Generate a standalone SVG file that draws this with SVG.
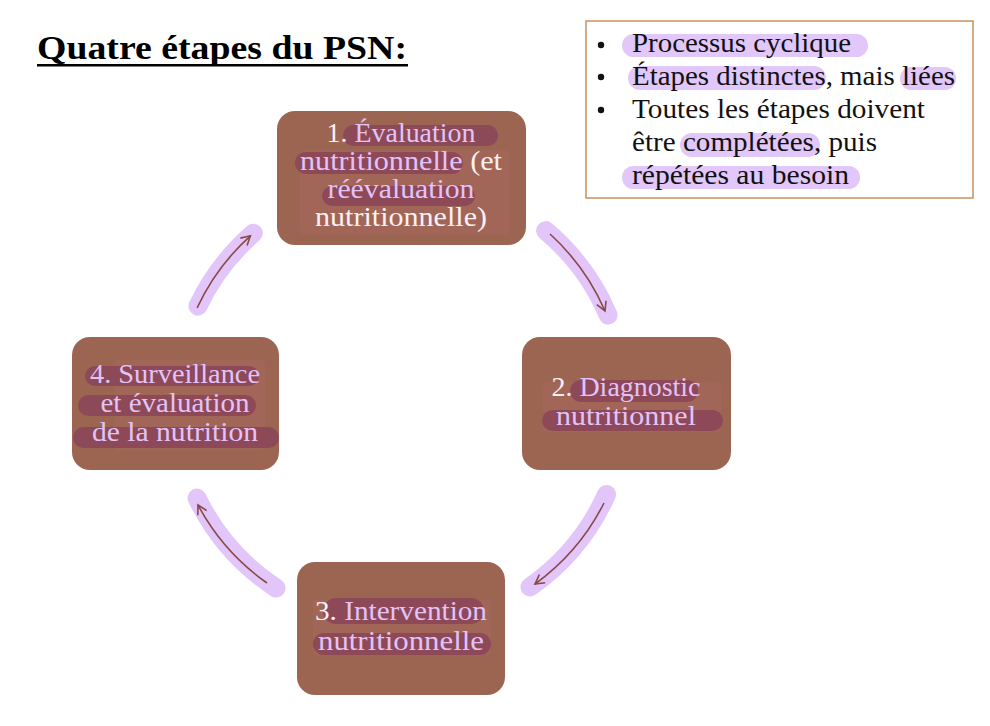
<svg xmlns="http://www.w3.org/2000/svg" width="990" height="726" viewBox="0 0 990 726">
<defs>
<style>
.node{fill:#9c6551;}
.band{fill:#87405a;opacity:0.75;}
.glow{fill:#b06a6a;opacity:0.35;}
.nt{font-family:"Liberation Serif","DejaVu Serif",serif;font-size:27px;text-anchor:middle;}
.w{fill:#fbf1f4;}
.l{fill:#e3c3f7;}
.bt{font-family:"Liberation Serif","DejaVu Serif",serif;font-size:27px;fill:#111;}
.hl{fill:#e2c7fa;}
.lav{fill:none;stroke:#e2c6f9;stroke-width:19;stroke-linecap:round;}
.arr{fill:none;stroke:#8a4848;stroke-width:1.6;marker-end:url(#ah);}
</style>
<marker id="ah" viewBox="0 0 12 12" refX="10" refY="6" markerWidth="12" markerHeight="12" markerUnits="userSpaceOnUse" orient="auto">
<path d="M1,1 L10,6 L1,11" fill="none" stroke="#8a4848" stroke-width="1.6"/>
</marker>
</defs>
<rect width="990" height="726" fill="#ffffff"/>

<g id="title">
<text x="37" y="59" font-family="Liberation Serif, DejaVu Serif, serif" font-weight="bold" font-size="33" fill="#000" textLength="370" lengthAdjust="spacingAndGlyphs">Quatre étapes du PSN:</text>
<rect x="37" y="64" width="371" height="2.5" fill="#000"/>
</g>

<g id="infobox">
<rect x="586" y="21" width="387" height="177" fill="#fff" stroke="#c8915f" stroke-width="1.5"/>
<rect class="hl" x="622" y="34" width="246" height="23" rx="11.5"/>
<rect class="hl" x="628" y="66" width="198" height="24" rx="12"/>
<rect class="hl" x="900" y="67" width="56" height="23" rx="11.5"/>
<rect class="hl" x="680" y="133" width="140" height="24" rx="12"/>
<rect class="hl" x="622" y="166" width="238" height="23" rx="11.5"/>
<circle cx="601" cy="45" r="3.2" fill="#111"/>
<circle cx="601" cy="77" r="3.2" fill="#111"/>
<circle cx="601" cy="110" r="3.2" fill="#111"/>
<text class="bt" x="632" y="52" textLength="219" lengthAdjust="spacingAndGlyphs">Processus cyclique</text>
<text class="bt" x="632" y="85" textLength="323" lengthAdjust="spacingAndGlyphs">Étapes distinctes, mais liées</text>
<text class="bt" x="632" y="118" textLength="293" lengthAdjust="spacingAndGlyphs">Toutes les étapes doivent</text>
<text class="bt" x="632" y="151" textLength="245" lengthAdjust="spacingAndGlyphs">être complétées, puis</text>
<text class="bt" x="632" y="184" textLength="217" lengthAdjust="spacingAndGlyphs">répétées au besoin</text>
</g>

<g id="connectors">
<path class="lav" d="M197.9,306.1 A225,225 0 0 1 253.4,233.2"/>
<path class="arr" d="M197.1,307.9 A225,225 0 0 1 250.4,235.8"/>
<path class="lav" d="M545.6,230.6 A225,225 0 0 1 608.1,315.1"/>
<path class="arr" d="M550,234 A225,225 0 0 1 605,311"/>
<path class="lav" d="M606.5,494.5 A225,225 0 0 1 530,587"/>
<path class="arr" d="M604,503 A225,225 0 0 1 535,584"/>
<path class="lav" d="M276,588 A225,225 0 0 1 197.1,498.1"/>
<path class="arr" d="M267,583 A225,225 0 0 1 198,505"/>
</g>

<g id="node1">
<rect class="node" x="277" y="111" width="249" height="134" rx="18"/>
<rect class="glow" x="300" y="150" width="210" height="85" rx="6"/>
<rect class="band" x="343" y="125" width="155" height="21" rx="10.5"/>
<rect class="band" x="295" y="152" width="168" height="22" rx="11"/>
<rect class="band" x="322" y="186" width="153" height="20" rx="10"/>
<text class="nt" x="401" y="142" textLength="149" lengthAdjust="spacingAndGlyphs"><tspan class="w">1. </tspan><tspan class="l">Évaluation</tspan></text>
<text class="nt" x="401" y="170" textLength="202" lengthAdjust="spacingAndGlyphs"><tspan class="l">nutritionnelle </tspan><tspan class="w">(et</tspan></text>
<text class="nt l" x="401" y="198" textLength="147" lengthAdjust="spacingAndGlyphs">réévaluation</text>
<text class="nt w" x="401" y="226" textLength="172" lengthAdjust="spacingAndGlyphs">nutritionnelle)</text>
</g>

<g id="node2">
<rect class="node" x="522" y="337" width="209" height="133" rx="18"/>
<rect class="glow" x="543" y="382" width="178" height="50" rx="4"/>
<rect class="band" x="570" y="380" width="128" height="22" rx="11"/>
<rect class="band" x="542" y="410" width="181" height="21" rx="10.5"/>
<text class="nt" x="626" y="396" textLength="149" lengthAdjust="spacingAndGlyphs"><tspan class="w">2. </tspan><tspan class="l">Diagnostic</tspan></text>
<text class="nt l" x="626" y="425" textLength="140" lengthAdjust="spacingAndGlyphs">nutritionnel</text>
</g>

<g id="node3">
<rect class="node" x="297" y="562" width="208" height="133" rx="18"/>
<rect class="glow" x="313" y="600" width="178" height="55" rx="4"/>
<rect class="band" x="323" y="598" width="161" height="26" rx="13"/>
<rect class="band" x="313" y="633" width="178" height="22" rx="11"/>
<text class="nt" x="401" y="620" textLength="172" lengthAdjust="spacingAndGlyphs"><tspan class="w">3. </tspan><tspan class="l">Intervention</tspan></text>
<text class="nt l" x="401" y="650" textLength="166" lengthAdjust="spacingAndGlyphs">nutritionnelle</text>
</g>

<g id="node4">
<rect class="node" x="72" y="337" width="207" height="133" rx="18"/>
<rect class="glow" x="115" y="360" width="150" height="90" rx="4"/>
<rect class="band" x="85" y="366" width="174" height="20" rx="10"/>
<rect class="band" x="78" y="395" width="178" height="21" rx="10.5"/>
<rect class="band" x="73" y="427" width="206" height="21" rx="10.5"/>
<text class="nt l" x="175" y="383" textLength="170" lengthAdjust="spacingAndGlyphs">4. Surveillance</text>
<text class="nt l" x="175" y="412" textLength="149" lengthAdjust="spacingAndGlyphs">et évaluation</text>
<text class="nt l" x="175" y="441" textLength="166" lengthAdjust="spacingAndGlyphs">de la nutrition</text>
</g>
</svg>
